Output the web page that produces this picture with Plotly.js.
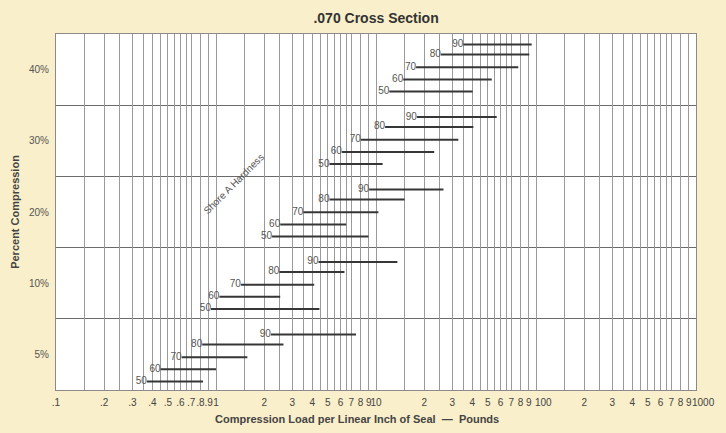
<!DOCTYPE html>
<html>
<head>
<meta charset="utf-8">
<script src="https://cdn.plot.ly/plotly-3.0.1.min.js"></script>
<style>
  html, body { margin: 0; padding: 0; background: #f9efca; }
  #chart { width: 726px; height: 433px; }
</style>
</head>
<body>
<div id="chart"></div>
<script>
// Compression bands (bottom to top) and Shore A hardness grades
const bands = ['5%', '10%', '20%', '30%', '40%'];
const hardness = [50, 60, 70, 80, 90];

// Load range (lb per linear inch of seal) for each hardness, per band
const min5  = [0.37, 0.45, 0.61, 0.82, 2.2];
const max5  = [0.83, 1.0, 1.57, 2.64, 7.5];
const min10 = [0.93, 1.05, 1.43, 2.49, 4.37];
const max10 = [4.43, 2.52, 4.11, 6.35, 13.6];
const min20 = [2.24, 2.52, 3.52, 5.12, 9.06];
const max20 = [8.97, 6.51, 10.35, 15.1, 26.4];
const min30 = [5.12, 6.11, 8.04, 11.4, 18.0];
const max30 = [11.0, 23.1, 32.7, 40.6, 56.8];
const min40 = [12.1, 14.8, 17.8, 25.4, 35.2];
const max40 = [40.2, 52.9, 77.5, 90.8, 94.0];

const minLoads = [min5, min10, min20, min30, min40];
const maxLoads = [max5, max10, max20, max30, max40];

// Axis tick labels
const decadeLabels = [
  ['.1', '.2', '.3', '.4', '.5', '.6', '.7', '.8', '.9'],
  ['1', '2', '3', '4', '5', '6', '7', '8', '9'],
  ['10', '2', '3', '4', '5', '6', '7', '8', '9'],
  ['100', '2', '3', '4', '5', '6', '7', '8', '9']
];
const lastLabel = '1000';
// Decade labels that sit just right of their grid line (crowded end of decade)
const shiftedLabels = [['100', 100], ['1000', 1000]];

// Grid multipliers within a decade; integer steps carry a label
const gridSteps = [1, 1.5, 2, 2.5, 3, 3.5, 4, 4.5, 5, 5.5, 6, 6.5, 7, 8, 9];

const tickvals = [], ticktext = [];
decadeLabels.forEach((labels, d) => {
  const base = Math.pow(10, d - 1);
  gridSteps.forEach(m => {
    tickvals.push(+(m * base).toPrecision(6));
    let t = Number.isInteger(m) ? labels[m - 1] : '';
    if (shiftedLabels.some(s => s[0] === t && s[1] === m * base)) t = '';
    ticktext.push(t);
  });
});
tickvals.push(1000); ticktext.push('');

const font = 'Liberation Sans, Arial, Helvetica, sans-serif';
const lineColor = '#363636';
const textColor = '#555';

// Vertical placement of each hardness line inside its band
function rowOffset(band, k) {
  const base = [0.12, 0.29, 0.46, 0.64, 0.78];
  return band + base[k] + 0.018 * band;
}

const traces = [];
bands.forEach((b, bi) => {
  hardness.forEach((h, k) => {
    const y = rowOffset(bi, k);
    traces.push({
      type: 'scatter', mode: 'lines',
      x: [minLoads[bi][k], maxLoads[bi][k]], y: [y, y],
      line: { color: lineColor, width: 2 },
      hoverinfo: 'skip', showlegend: false
    });
    traces.push({
      type: 'scatter', mode: 'text',
      x: [minLoads[bi][k]], y: [y],
      text: [String(h)], textposition: 'middle left',
      textfont: { family: font, size: 10, color: textColor },
      hoverinfo: 'skip', showlegend: false
    });
  });
});

const tickFont = { family: font, size: 10, color: '#444' };

const annotations = shiftedLabels.map(([label, v]) => ({
  xref: 'x', yref: 'paper', x: Math.log10(v), y: 0,
  xanchor: 'center', yanchor: 'top', yshift: -5, xshift: 7,
  showarrow: false, text: label, font: tickFont
}));

annotations.push(
  {
    xref: 'paper', yref: 'paper', x: 0.47, y: -0.06,
    xanchor: 'center', yanchor: 'top', showarrow: false,
    text: '<b>Compression Load per Linear Inch of Seal  —  Pounds</b>',
    font: { family: font, size: 11, color: '#444' }
  },
  {
    xref: 'paper', yref: 'paper', x: 0.278, y: 0.581,
    xanchor: 'center', yanchor: 'middle', showarrow: false,
    text: 'Shore A Hardness', textangle: -45,
    font: { family: font, size: 10, color: textColor }
  }
);

const layout = {
  width: 726, height: 433,
  paper_bgcolor: '#f9efca',
  plot_bgcolor: '#ffffff',
  margin: { l: 56, r: 30, t: 34, b: 43 },
  title: {
    text: '<b>.070 Cross Section</b>',
    font: { family: font, size: 14, color: '#333' },
    x: 0.518, xanchor: 'center', y: 0.958, yanchor: 'middle'
  },
  xaxis: {
    type: 'log', range: [-1, 3],
    tickmode: 'array', tickvals: tickvals, ticktext: ticktext,
    tickangle: 0, ticklabelstandoff: 3,
    showgrid: true, gridcolor: '#9a9a9a', gridwidth: 1,
    ticks: '', tickfont: tickFont,
    showline: true, mirror: true, linecolor: '#8a8a8a', linewidth: 1,
    zeroline: false, fixedrange: true
  },
  yaxis: {
    range: [0, 5],
    tickmode: 'array',
    tickvals: bands.map((_, i) => i + 0.5),
    ticktext: bands,
    showgrid: false,
    minor: { tickmode: 'array', tickvals: [1, 2, 3, 4], showgrid: true, gridcolor: '#6a6a6a', gridwidth: 1, ticks: '' },
    ticks: '', ticklabelstandoff: 4,
    tickfont: { family: font, size: 10, color: '#555' },
    showline: true, mirror: true, linecolor: '#8a8a8a', linewidth: 1,
    zeroline: false, fixedrange: true,
    title: {
      text: '<b>Percent Compression</b>',
      font: { family: font, size: 11, color: '#444' },
      standoff: 7
    }
  },
  annotations: annotations
};

Plotly.newPlot('chart', traces, layout, { staticPlot: true, displayModeBar: false });
</script>
</body>
</html>
